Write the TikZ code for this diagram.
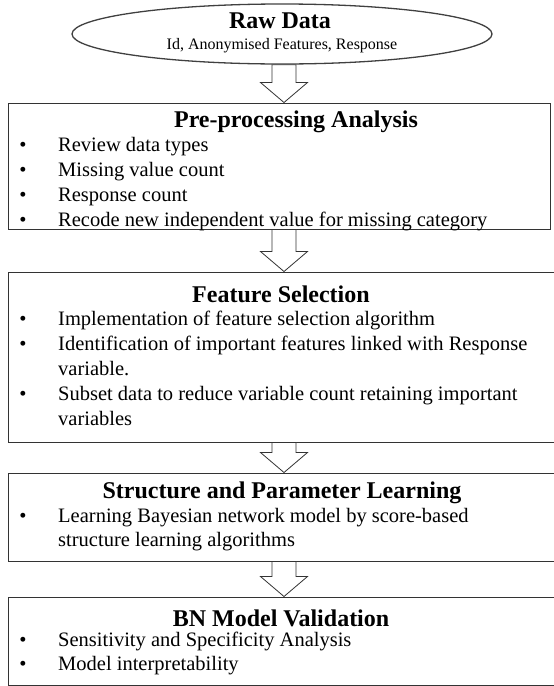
\documentclass[tikz,border=0pt]{standalone}
\usepackage{fontspec}
\setmainfont{Liberation Serif}
\usetikzlibrary{calc,shapes.geometric}
\newcommand{\blockarr}[2]{\draw[arr] let \p1=(#1), \p2=(#2) in
  (\x1-12pt,\y1) -- (\x1+12pt,\y1) -- (\x1+12pt,\y2+20pt) -- (\x1+23.5pt,\y2+20pt)
  -- (\x1,\y2) -- (\x1-23.5pt,\y2+20pt) -- (\x1-12pt,\y2+20pt) -- cycle;}
\begin{document}
\begin{tikzpicture}[x=1pt,y=-1pt,
  box/.style={draw=black!80, line width=1pt, inner sep=0pt},
  oval/.style={draw=black!75, line width=1.3pt, ellipse, inner sep=0pt, minimum width=420pt, minimum height=60pt},
  arr/.style={draw=black!80, line width=0.8pt, fill=white},
  ttl/.style={font=\fontsize{24pt}{28pt}\selectfont\bfseries, inner sep=0pt},
  sub/.style={font=\fontsize{16pt}{19pt}\selectfont, inner sep=0pt},
  txt/.style={font=\fontsize{20.5pt}{25pt}\selectfont, inner sep=0pt, anchor=mid west},
  bul/.style={font=\fontsize{20.5pt}{25pt}\selectfont, inner sep=0pt, anchor=mid}]
\useasboundingbox (0,0) rectangle (554,686);
% Raw data ellipse
\node[oval] (raw) at (282,34) {};
\node[ttl] (rawt) at (280,21) {Raw Data};
\node[sub] (raws) at (282,46) {Id, Anonymised Features, Response};
% Box 1
\node[box, minimum width=542pt, minimum height=126pt] (b1) at (279,166) {};
\node[ttl] (b1t) at (296,122) {Pre-processing Analysis};
\node[bul] (b1b1) at (23,149) {•}; \node[txt] (b1l1) at (58,149) {Review data types};
\node[bul] (b1b2) at (23,174) {•}; \node[txt] (b1l2) at (58,174) {Missing value count};
\node[bul] (b1b3) at (23,199) {•}; \node[txt] (b1l3) at (58,199) {Response count};
\node[bul] (b1b4) at (23,224) {•}; \node[txt] (b1l4) at (58,224) {Recode new independent value for missing category};
% Box 2
\node[box, minimum width=552pt, minimum height=170pt] (b2) at (284,357) {};
\node[ttl] (b2t) at (281,294) {Feature Selection};
\node[bul] (b2b1) at (23,323) {•}; \node[txt] (b2l1) at (58,323) {Implementation of feature selection algorithm};
\node[bul] (b2b2) at (23,348) {•}; \node[txt] (b2l2) at (58,348) {Identification of important features linked with Response};
\node[txt] (b2l2b) at (58,373) {variable.};
\node[bul] (b2b3) at (23,398) {•}; \node[txt] (b2l3) at (58,398) {Subset data to reduce variable count retaining important};
\node[txt] (b2l3b) at (58,423) {variables};
% Box 3
\node[box, minimum width=552pt, minimum height=88pt] (b3) at (284,517) {};
\node[ttl] (b3t) at (282,493) {Structure and Parameter Learning};
\node[bul] (b3b1) at (23,520) {•}; \node[txt] (b3l1) at (58,520) {Learning Bayesian network model by score-based};
\node[txt] (b3l1b) at (58,544) {structure learning algorithms};
% Box 4
\node[box, minimum width=552pt, minimum height=88pt] (b4) at (284,641) {};
\node[ttl] (b4t) at (281,618) {BN Model Validation};
\node[bul] (b4b1) at (23,644) {•}; \node[txt] (b4l1) at (58,644) {Sensitivity and Specificity Analysis};
\node[bul] (b4b2) at (23,668) {•}; \node[txt] (b4l2) at (58,668) {Model interpretability};
% arrows
\coordinate (s1) at ($(raw.south)+(2,0)$);
\coordinate (e1) at (s1 |- b1.north);
\coordinate (s2) at (b1.south -| s1);
\coordinate (e2) at (s1 |- b2.north);
\coordinate (s3) at (b2.south -| s1);
\coordinate (e3) at (s1 |- b3.north);
\coordinate (s4) at (b3.south -| s1);
\coordinate (e4) at (s1 |- b4.north);
\blockarr{s1}{e1}
\blockarr{s2}{e2}
\blockarr{s3}{e3}
\blockarr{s4}{e4}
\end{tikzpicture}
\end{document}
